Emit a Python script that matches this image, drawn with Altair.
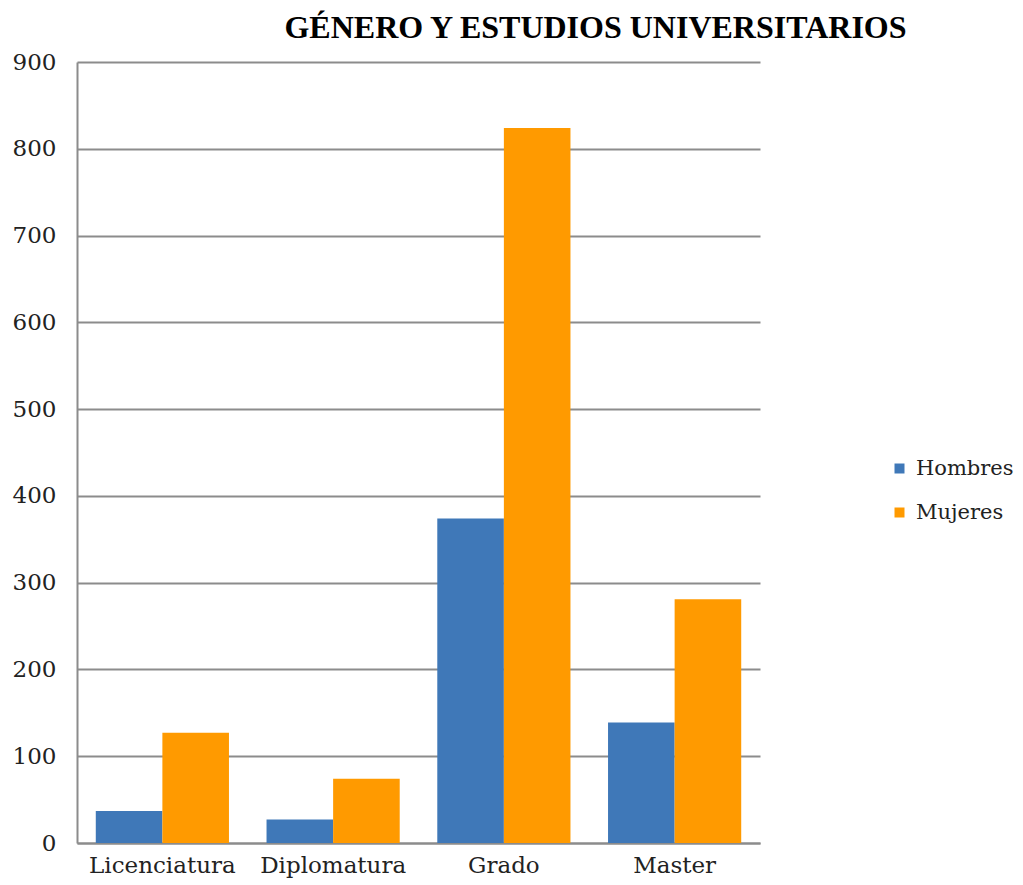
import altair as alt
import pandas as pd

categories = ["Licenciatura", "Diplomatura", "Grado", "Master"]
series = ["Hombres", "Mujeres"]
hombres = [37, 27, 374, 139]
mujeres = [127, 74, 824, 281]
y_ticks = [0, 100, 200, 300, 400, 500, 600, 700, 800, 900]

rows = []
for c, h, m in zip(categories, hombres, mujeres):
    rows.append({"Estudio": c, "Genero": "Hombres", "Valor": h})
    rows.append({"Estudio": c, "Genero": "Mujeres", "Valor": m})
df = pd.DataFrame(rows)

chart = alt.Chart(df).mark_bar().encode(
    x=alt.X("Estudio:N", sort=categories, title=None,
            scale=alt.Scale(paddingInner=0.22, paddingOuter=0.11),
            axis=alt.Axis(labelAngle=0, labelFont="DejaVu Serif", labelFontSize=23,
                          labelColor="#222222", labelPadding=11, ticks=False,
                          domainColor="#8c8c8c", domainWidth=2, grid=False)),
    xOffset=alt.XOffset("Genero:N", sort=series),
    y=alt.Y("Valor:Q", title=None,
            scale=alt.Scale(domain=[0, 900], nice=False),
            axis=alt.Axis(values=y_ticks, labelFont="DejaVu Serif", labelFontSize=23,
                          labelColor="#222222", labelPadding=21, ticks=False,
                          domainColor="#8c8c8c", domainWidth=2,
                          gridColor="#8c8c8c", gridWidth=2)),
    color=alt.Color("Genero:N", sort=series,
                    scale=alt.Scale(domain=series, range=["#3F78B8", "#FF9A00"]),
                    legend=alt.Legend(title=None, orient="none", legendX=812, legendY=396,
                                      symbolType="square", symbolSize=100,
                                      symbolStrokeWidth=0,
                                      labelFont="DejaVu Serif", labelFontSize=21,
                                      labelColor="#222222", rowPadding=22, labelOffset=6)),
).properties(
    width=683,
    height=781,
    title=alt.TitleParams("GÉNERO Y ESTUDIOS UNIVERSITARIOS", font="Liberation Serif",
                          fontSize=32, fontWeight="bold", color="#000000",
                          anchor="middle", dx=177, offset=6),
    autosize=alt.AutoSizeParams(type="none"),
    padding={"left": 69, "top": 54, "right": 255, "bottom": 40},
).configure_view(stroke=None)

chart.save("out.html", embed_options={"renderer": "svg", "actions": False})
